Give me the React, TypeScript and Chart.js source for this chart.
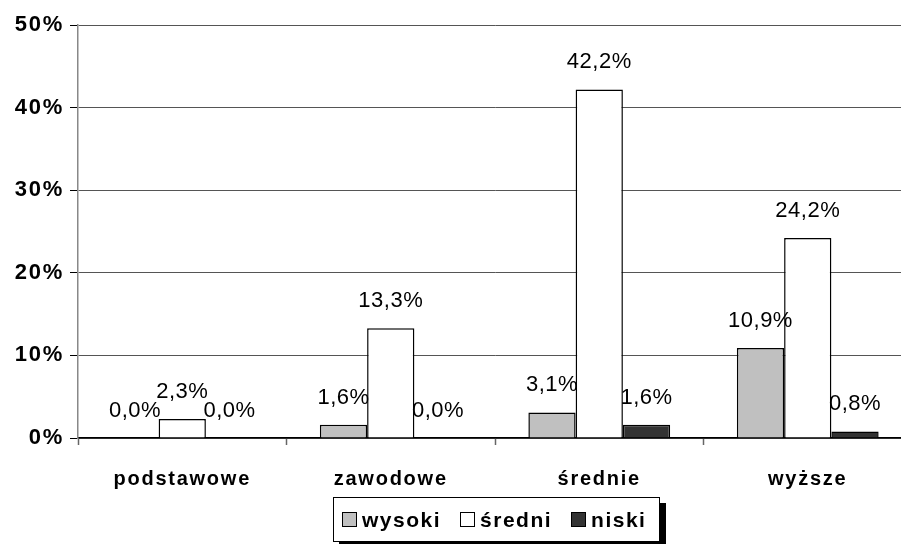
import React, { useEffect, useRef } from "react";
import { Chart, registerables } from "chart.js";

Chart.register(...registerables);

const categories = ["podstawowe", "zawodowe", "średnie", "wyższe"];
const seriesNames = ["wysoki", "średni", "niski"];
const wysoki = [0, 1.6, 3.1, 10.9];
const sredni = [2.3, 13.3, 42.2, 24.2];
const niski = [0, 0, 1.6, 0.8];
const seriesColors = ["#c0c0c0", "#ffffff", "#333333"];
const yTicks = [0, 10, 20, 30, 40, 50];

const FONT = "'Liberation Sans', Arial, sans-serif";

const fmt = (v: number) => v.toFixed(1).replace(".", ",") + "%";

const spacingPlugin = {
  id: "spacing",
  beforeDraw(chart: any) {
    try {
      chart.ctx.letterSpacing = "1.75px";
    } catch (e) {}
  },
};

const labelPlugin = {
  id: "valueLabels",
  afterDatasetsDraw(chart: any) {
    const ctx = chart.ctx;
    ctx.save();
    try {
      ctx.letterSpacing = "0.5px";
    } catch (e) {}
    ctx.font = `22px ${FONT}`;
    ctx.fillStyle = "#000";
    ctx.textAlign = "center";
    ctx.textBaseline = "middle";
    chart.data.datasets.forEach((ds: any, di: number) => {
      const meta = chart.getDatasetMeta(di);
      meta.data.forEach((bar: any, i: number) => {
        const v = ds.data[i];
        ctx.fillText(fmt(v), bar.x, bar.y - 27);
      });
    });
    ctx.restore();
  },
};

export default function App() {
  const ref = useRef<HTMLCanvasElement>(null);
  useEffect(() => {
    if (!ref.current) return;
    const chart = new Chart(ref.current, {
      type: "bar",
      data: {
        labels: categories,
        datasets: [wysoki, sredni, niski].map((d, i) => ({
          label: seriesNames[i],
          data: d,
          backgroundColor: seriesColors[i],
          borderColor: "#000",
          borderWidth: 1.5,
          categoryPercentage: 0.68,
          barPercentage: 1,
        })),
      },
      options: {
        responsive: false,
        animation: false,
        devicePixelRatio: 1,
        layout: { padding: { top: 25, right: 1, bottom: 0, left: 0 } },
        plugins: {
          legend: { display: false },
          tooltip: { enabled: false },
        },
        scales: {
          x: {
            grid: {
              offset: true,
              drawOnChartArea: false,
              drawTicks: true,
              tickLength: 7,
              tickColor: "#666",
              tickWidth: 1.5,
            },
            border: { color: "#000", width: 1.5 },
            ticks: {
              color: "#000",
              font: { family: FONT, size: 20, weight: "bold" },
              padding: 22,
            },
            afterFit(scale: any) {
              scale.height = 106;
            },
          },
          y: {
            min: 0,
            max: 50,
            afterBuildTicks(scale: any) {
              scale.ticks = yTicks.map((v) => ({ value: v }));
            },
            grid: {
              color: "#555",
              lineWidth: 1,
              tickLength: 8,
              tickColor: "#000",
            },
            border: { color: "#888", width: 1.5 },
            ticks: {
              color: "#000",
              font: { family: FONT, size: 22, weight: "bold" },
              padding: 6,
              callback: (v: any) => v + "%",
            },
            afterFit(scale: any) {
              scale.width = 78;
            },
          },
        },
      },
      plugins: [spacingPlugin, labelPlugin],
    });
    return () => chart.destroy();
  }, []);

  const marker = (c: string) => ({
    display: "inline-block",
    width: 15,
    height: 15,
    boxSizing: "border-box" as const,
    border: "1.5px solid #000",
    background: c,
    marginRight: 5,
  });

  return (
    <div
      style={{
        position: "fixed",
        left: 0,
        top: 0,
        width: 901,
        height: 544,
        overflow: "hidden",
        background: "#fff",
      }}
    >
      <canvas ref={ref} width={913} height={544} style={{ display: "block" }} />
      <div
        style={{
          position: "absolute",
          left: 333,
          top: 497,
          width: 327,
          height: 45,
          boxSizing: "border-box",
          border: "1px solid #000",
          boxShadow: "6px 6px 0 #000",
          background: "#fff",
          display: "flex",
          alignItems: "center",
          paddingLeft: 8,
          fontFamily: FONT,
          fontWeight: "bold",
          fontSize: 21,
          letterSpacing: "1.5px",
          color: "#000",
          whiteSpace: "nowrap",
        }}
      >
        {seriesNames.map((n, i) => (
          <span
            key={n}
            style={{ display: "flex", alignItems: "center", marginRight: i < 2 ? 19 : 0 }}
          >
            <span style={marker(seriesColors[i])} />
            <span>{n}</span>
          </span>
        ))}
      </div>
    </div>
  );
}
